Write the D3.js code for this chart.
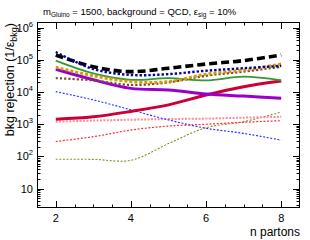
<!DOCTYPE html>
<html>
<head>
<meta charset="utf-8">
<script src="https://cdn.jsdelivr.net/npm/d3@7"></script>
<style>
  body { margin: 0; background: #fff; }
  svg { display: block; font-family: "Liberation Sans", Arial, sans-serif; }
</style>
</head>
<body>
<svg id="chart"></svg>
<script>
// n partons on x axis
var nPartons = [2, 3, 4, 5, 6, 7, 8];

// bkg rejection values, one array per curve
var blackDashed  = [1.42e5, 6.1e4, 4.3e4, 5.5e4, 7.4e4, 9.5e4, 1.42e5];
var navyDotted   = [1.75e5, 5.2e4, 3.4e4, 3.6e4, 4.6e4, 5.5e4, 6.5e4];
var goldDotted   = [5.9e4, 3.2e4, 2.1e4, 2.1e4, 3.6e4, 4.8e4, 7.4e4];
var brownDotted  = [2.7e4, 2.3e4, 1.66e4, 2.0e4, 3.2e4, 4.3e4, 6.1e4];
var greenSolid   = [9.5e4, 3.8e4, 2.4e4, 2.7e4, 2.3e4, 3.0e4, 2.3e4];
var purpleSolid  = [5.1e4, 2.4e4, 1.3e4, 1.16e4, 8.7e3, 7.5e3, 6.4e3];
var crimsonSolid = [1.43e3, 1.7e3, 2.5e3, 4.0e3, 8.1e3, 1.47e4, 2.2e4];
var blueDotted   = [1.03e4, 5.7e3, 2.8e3, 1.36e3, 750, 520, 320];
var pinkDotted   = [1.2e3, 1.3e3, 1.38e3, 1.45e3, 1.5e3, 1.6e3, 1.7e3];
var redDotted    = [290, 410, 660, 880, 1.0e3, 1.15e3, 1.29e3];
var oliveDotted  = [82, 81, 76, 250, 780, 1.2e3, 2.4e3];

var xTicks = [2, 4, 6, 8];
var yTicks = [10, 1e2, 1e3, 1e4, 1e5, 1e6];

var series = [
  {values: oliveDotted,  color: "#8a8a2a", width: 1.1, dash: "2,1.6"},
  {values: redDotted,    color: "#ff3030", width: 1.2, dash: "2,1.6"},
  {values: pinkDotted,   color: "#ff8a9a", width: 2,   dash: "2,1.4"},
  {values: blueDotted,   color: "#2233ff", width: 1.1, dash: "2,1.6"},
  {values: crimsonSolid, color: "#cc0033", width: 3,   dash: null},
  {values: purpleSolid,  color: "#9900cc", width: 3,   dash: null},
  {values: greenSolid,   color: "#339933", width: 1.8, dash: null},
  {values: brownDotted,  color: "#7a4a3a", width: 2.2, dash: "2.2,2"},
  {values: goldDotted,   color: "#d49a00", width: 3,   dash: "3,2"},
  {values: blackDashed,  color: "#000000", width: 3.6, dash: "8,4"},
  {values: navyDotted,   color: "#0000a0", width: 2.4, dash: "2.4,2"}
];

var width = 310,
    height = 240,
    margin = {top: 22, right: 10, bottom: 32, left: 37};

var svg = d3.select("#chart")
  .attr("width", width)
  .attr("height", height);

var x = d3.scaleLinear().domain([1.5, 8.5]).range([margin.left, width - margin.right]);
var y = d3.scaleLog().domain([2.5, 1.5e6]).range([height - margin.bottom, margin.top]);

var x0 = x.range()[0], x1 = x.range()[1];
var y0 = y.range()[0], y1 = y.range()[1];

// ROOT style inward ticks on all four sides
var ticks = svg.append("g").attr("stroke", "#000").attr("stroke-width", 1);

var xMinor = d3.range(2, 8.01, 0.5);
xMinor.forEach(function(v) {
  var len = xTicks.indexOf(v) !== -1 ? 7 : 3.5;
  var px = Math.round(x(v)) + 0.5;
  ticks.append("line").attr("x1", px).attr("x2", px).attr("y1", y0).attr("y2", y0 - len);
  ticks.append("line").attr("x1", px).attr("x2", px).attr("y1", y1).attr("y2", y1 + len);
});

var yAll = [];
for (var e = 0; e <= 6; e++) {
  for (var m = 1; m <= 9; m++) {
    var v = m * Math.pow(10, e);
    if (v >= 2.5 && v <= 1.5e6) yAll.push(v);
  }
}
yAll.forEach(function(v) {
  var len = yTicks.indexOf(v) !== -1 ? 7 : 3.5;
  var py = Math.round(y(v)) + 0.5;
  ticks.append("line").attr("x1", x0).attr("x2", x0 + len).attr("y1", py).attr("y2", py);
  ticks.append("line").attr("x1", x1).attr("x2", x1 - len).attr("y1", py).attr("y2", py);
});

// curves
var line = d3.line()
  .x(function(d, i) { return x(nPartons[i]); })
  .y(function(d) { return y(d); })
  .curve(d3.curveCatmullRom.alpha(0.5));

svg.append("g").selectAll("path")
  .data(series)
.enter().append("path")
  .attr("d", function(d) { return line(d.values); })
  .attr("fill", "none")
  .attr("stroke", function(d) { return d.color; })
  .attr("stroke-width", function(d) { return d.width; })
  .attr("stroke-dasharray", function(d) { return d.dash; });

// frame
svg.append("rect")
  .attr("x", x0 + 0.5).attr("y", y1 + 0.5)
  .attr("width", x1 - x0 - 1).attr("height", y0 - y1 - 1)
  .attr("fill", "none").attr("stroke", "#000").attr("stroke-width", 1);

// x tick labels
svg.append("g").selectAll("text")
  .data(xTicks)
.enter().append("text")
  .attr("x", function(d) { return x(d); })
  .attr("y", y0 + 14)
  .attr("text-anchor", "middle")
  .attr("font-size", 11)
  .text(function(d) { return d; });

// y tick labels, 10 then 10^n
var yLab = svg.append("g").selectAll("text")
  .data(yTicks)
.enter().append("text")
  .attr("x", x0 - 4)
  .attr("y", function(d) { return y(d) + 4; })
  .attr("text-anchor", "end")
  .attr("font-size", 11);

yLab.each(function(d) {
  var t = d3.select(this);
  var p = Math.round(Math.log10(d));
  if (p === 1) { t.text("10"); return; }
  t.append("tspan").text("10");
  t.append("tspan").attr("font-size", 7.5).attr("dy", -5).text(p);
});

// title
var title = svg.append("text")
  .attr("x", 43).attr("y", 15)
  .attr("font-size", 9.5);
title.append("tspan").text("m");
title.append("tspan").attr("font-size", 6.5).attr("dy", 2).text("Gluino");
title.append("tspan").attr("dy", -2).text(" = 1500, background = QCD, ε");
title.append("tspan").attr("font-size", 6.5).attr("dy", 2).text("sig");
title.append("tspan").attr("dy", -2).text(" = 10%");

// axis titles
svg.append("text")
  .attr("x", width - margin.right)
  .attr("y", 236)
  .attr("text-anchor", "end")
  .attr("font-size", 12)
  .text("n partons");

var yt = svg.append("text")
  .attr("transform", "translate(14," + (y1 + 1) + ") rotate(-90)")
  .attr("text-anchor", "end")
  .attr("font-size", 12.5);
yt.append("tspan").text("bkg rejection (1/ε");
yt.append("tspan").attr("font-size", 9).attr("dy", 3).text("bkg");
yt.append("tspan").attr("dy", -3).text(")");
</script>
</body>
</html>
